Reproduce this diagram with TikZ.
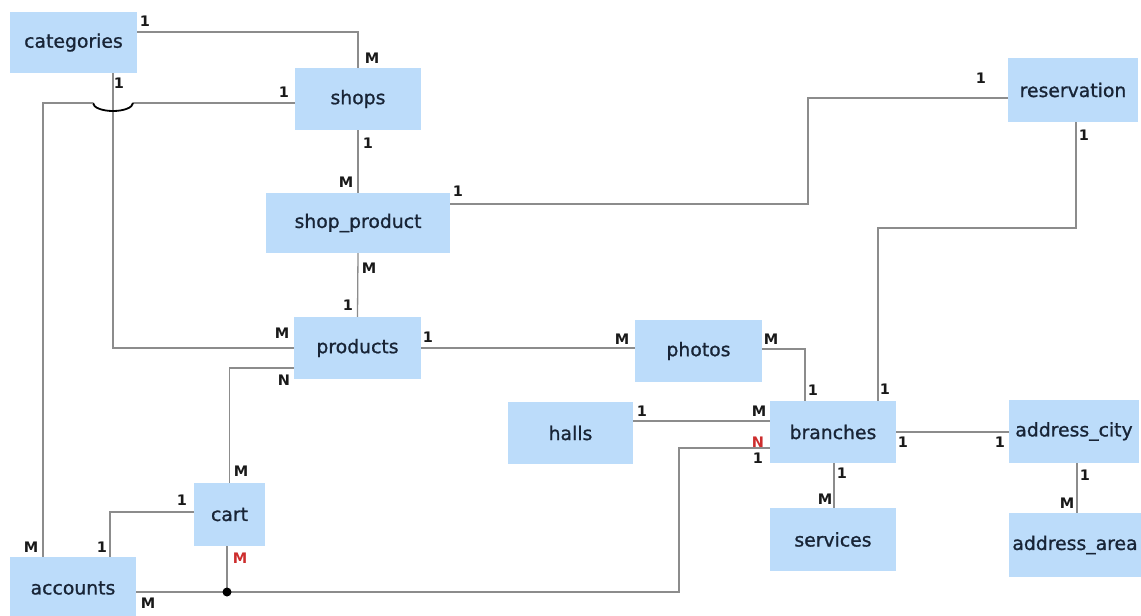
\documentclass[tikz,border=0pt]{standalone}
\usepackage{fontspec}
\setmainfont{DejaVu Sans}
\newfontfamily\entfont{DejaVu Sans}[FakeBold=1]
\usetikzlibrary{calc}
\definecolor{entfill}{RGB}{188,220,250}
\definecolor{enttext}{RGB}{24,36,54}
\definecolor{linkgray}{RGB}{140,140,140}
\definecolor{cardred}{RGB}{205,45,45}
\begin{document}
\begin{tikzpicture}[x=1pt,y=-1pt,
  ent/.style={fill=entfill, text=enttext, font=\entfont\fontsize{18.8}{21}\selectfont, inner sep=0pt, anchor=center},
  link/.style={draw=linkgray, line width=1.3pt},
  hop/.style={draw=black, line width=1.8pt},
  card/.style={font=\bfseries\fontsize{14.5}{15}\selectfont, text=black!90, inner sep=0pt},
  redcard/.style={card, text=cardred}]
\useasboundingbox (0,0) rectangle (1141,616);
\clip (0,0) rectangle (1141,616);
\fill[white] (0,0) rectangle (1141,616);

% entities
\node[ent, minimum width=127pt, minimum height=61pt] (categories)   at (73.5,42.5)  {categories};
\node[ent, minimum width=126pt, minimum height=62pt] (shops)        at (358,99)     {shops};
\node[ent, minimum width=184pt, minimum height=60pt] (shopproduct)  at (358,223)    {shop\_product};
\node[ent, minimum width=127pt, minimum height=62pt] (products)     at (357.5,348)  {products};
\node[ent, minimum width=71pt,  minimum height=63pt] (cart)         at (229.5,514.5){cart};
\node[ent, minimum width=126pt, minimum height=62pt] (accounts)     at (73,588)     {accounts};
\node[ent, minimum width=130pt, minimum height=64pt] (reservation)  at (1073,90)    {reservation};
\node[ent, minimum width=127pt, minimum height=62pt] (photos)       at (698.5,351)  {photos};
\node[ent, minimum width=125pt, minimum height=62pt] (halls)        at (570.5,433)  {halls};
\node[ent, minimum width=126pt, minimum height=62pt] (branches)     at (833,432)    {branches};
\node[ent, minimum width=126pt, minimum height=63pt] (services)     at (833,539.5)  {services};
\node[ent, minimum width=130pt, minimum height=63pt] (addresscity)  at (1074,431.5) {address\_city};
\node[ent, minimum width=132pt, minimum height=64pt] (addressarea)  at (1075,545)   {address\_area};

% categories -- shops
\draw[link] ([yshift=10.5pt]categories.east) -| (shops.north);
% categories -- products
\coordinate (cx) at ([xshift=39.5pt]categories.south);
\draw[link] (cx) |- (products.west);
% shops -- accounts, hopping over the categories line
\coordinate (sw) at ([yshift=-4pt]shops.west);
\coordinate (jc) at (cx |- sw);
\draw[link] (sw) -- ([xshift=20pt]jc);
\draw[hop] ([xshift=20pt]jc) arc[start angle=0, end angle=-180, x radius=20pt, y radius=8pt];
\draw[link] ([xshift=-20pt]jc) -| ([xshift=-30pt]accounts.north);
% shops -- shop_product -- products
\draw[link] (shops.south) -- (shopproduct.north);
\draw[link] (shopproduct.south) -- (products.north);
% shop_product -- reservation
\draw[link] ([yshift=19pt]shopproduct.east) -| (808,98) -- ([yshift=-8pt]reservation.west);
% reservation -- branches
\draw[link] ([xshift=3pt]reservation.south) |- (878,228) -- ([xshift=45pt]branches.north);
% products -- photos
\draw[link] (products.east) -- (products.east -| photos.west);
% photos -- branches
\draw[link] ([yshift=2pt]photos.east) -| ([xshift=-28pt]branches.north);
% halls -- branches
\coordinate (he) at ([yshift=12pt]halls.east);
\draw[link] (he) -- (he -| branches.west);
% products -- cart
\draw[link] ([yshift=-20pt]products.west) -| (cart.north);
% cart -- accounts
\draw[link] ([yshift=2.5pt]cart.west) -| ([xshift=37pt]accounts.north);
% accounts -- branches
\coordinate (ae) at ([yshift=-4pt]accounts.east);
\draw[link] (ae) -| (679,448) -- ([yshift=-16pt]branches.west);
% cart joins the accounts line
\coordinate (jn) at ([xshift=-2.5pt]cart.south |- ae);
\draw[link] ([xshift=-2.5pt]cart.south) -- (jn);
\fill[black] (jn) circle (4.5pt);
% branches -- address_city, services
\draw[link] (branches.east) -- (branches.east -| addresscity.west);
\draw[link] ([xshift=1pt]branches.south) -- ([xshift=1pt]services.north);
% address_city -- address_area
\coordinate (cs) at ([xshift=3pt]addresscity.south);
\draw[link] (cs) -- (cs |- addressarea.north);

% cardinalities
\node[card] (c1a) at (145,21) {1};
\node[card] (c1b) at (372,58) {M};
\node[card] (c2a) at (119,83) {1};
\node[card] (c2b) at (282,333) {M};
\node[card] (c3a) at (284,92) {1};
\node[card] (c3b) at (31,547) {M};
\node[card] (c4a) at (368,143) {1};
\node[card] (c4b) at (346,182) {M};
\node[card] (c5a) at (369,268) {M};
\node[card] (c5b) at (348,305) {1};
\node[card] (c6a) at (458,191) {1};
\node[card] (c6b) at (981,78) {1};
\node[card] (c7a) at (1084,135) {1};
\node[card] (c7b) at (885,389) {1};
\node[card] (c8a) at (428,337) {1};
\node[card] (c8b) at (622,339) {M};
\node[card] (c9a) at (771,339) {M};
\node[card] (c9b) at (813,390) {1};
\node[card] (c10a) at (642,411) {1};
\node[card] (c10b) at (759,411) {M};
\node[card] (c11a) at (284,380) {N};
\node[card] (c11b) at (241,471) {M};
\node[card] (c12a) at (182,500) {1};
\node[card] (c12b) at (102,547) {1};
\node[card] (c13a) at (148,603) {M};
\node[redcard] (c13b) at (758,442) {N};
\node[card] (c13c) at (758,458) {1};
\node[redcard] (c14) at (240,558) {M};
\node[card] (c15a) at (903,442) {1};
\node[card] (c15b) at (1000,442) {1};
\node[card] (c16a) at (842,473) {1};
\node[card] (c16b) at (825,499) {M};
\node[card] (c17a) at (1085,475) {1};
\node[card] (c17b) at (1067,503) {M};
\end{tikzpicture}
\end{document}
